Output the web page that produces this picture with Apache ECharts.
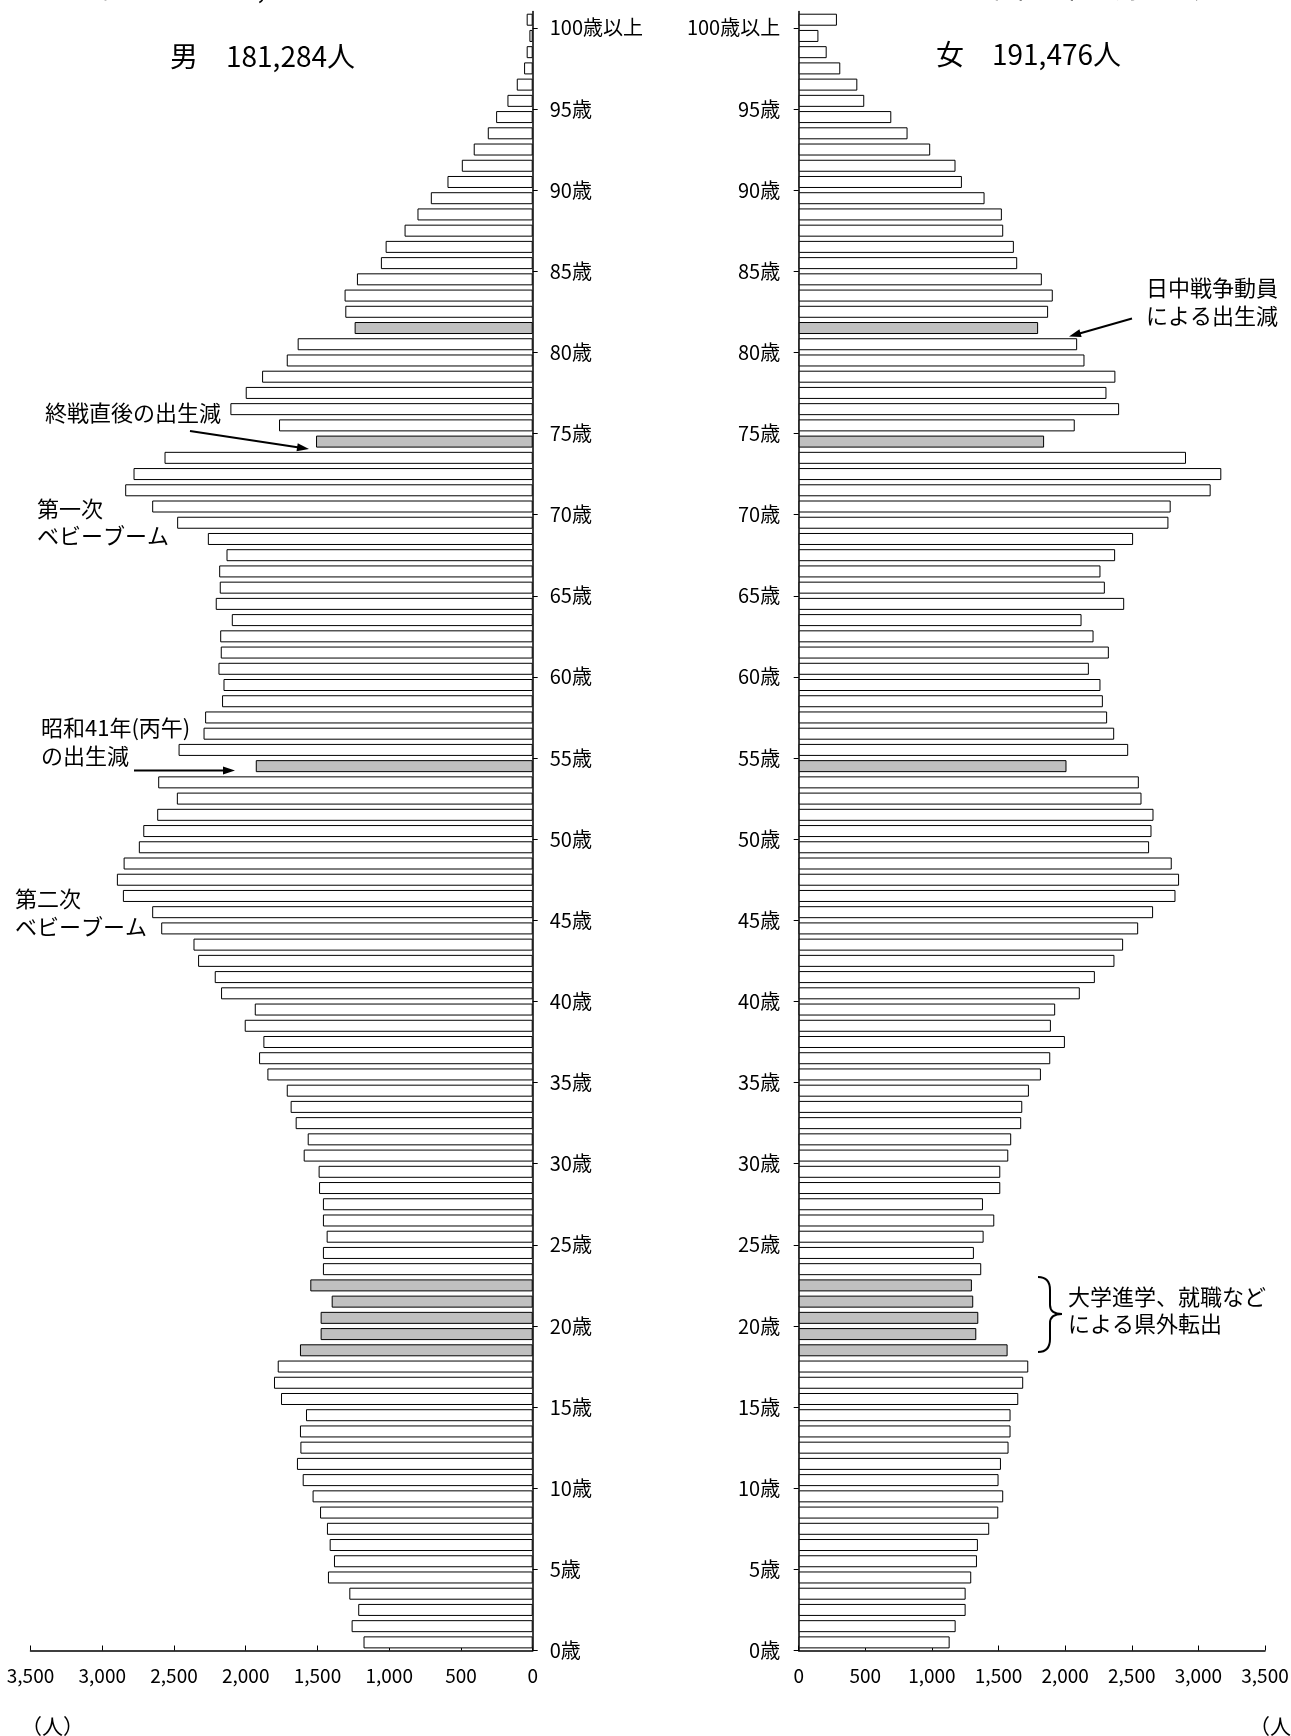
<!DOCTYPE html>
<html>
<head>
<meta charset="utf-8">
<script src="https://cdn.jsdelivr.net/npm/echarts@6/dist/echarts.min.js"></script>
<style>
  html, body { margin: 0; padding: 0; background: #fff; }
  #chart { width: 1291px; height: 1736px; }
</style>
</head>
<body>
<div id="chart"></div>
<script>
// ---- data (age 0 .. 100+) ----
const ageCategories = Array.from({ length: 101 }, (_, i) => (i === 100 ? '100歳以上' : i + '歳'));
const maleValues = [
  1179, 1262, 1216, 1278, 1427, 1385, 1415, 1434, 1482, 1534,
  1603, 1643, 1619, 1622, 1580, 1754, 1803, 1777, 1622, 1478,
  1478, 1401, 1550, 1462, 1462, 1436, 1462, 1462, 1489, 1492,
  1596, 1568, 1652, 1687, 1714, 1849, 1907, 1877, 2007, 1937,
  2172, 2216, 2332, 2364, 2589, 2652, 2856, 2898, 2851, 2745,
  2714, 2617, 2480, 2610, 1930, 2468, 2294, 2283, 2165, 2155,
  2190, 2174, 2178, 2097, 2209, 2181, 2185, 2134, 2264, 2478,
  2652, 2840, 2782, 2566, 1510, 1768, 2107, 2000, 1886, 1714,
  1638, 1241, 1306, 1311, 1225, 1058, 1025, 893, 803, 710,
  594, 494, 411, 313, 255, 176, 111, 60, 42, 23,
  42
];
const femaleValues = [
  1133, 1178, 1253, 1253, 1295, 1338, 1345, 1430, 1498, 1535,
  1500, 1518, 1575, 1590, 1590, 1648, 1685, 1723, 1568, 1333,
  1348, 1310, 1300, 1370, 1315, 1388, 1468, 1383, 1513, 1513,
  1573, 1595, 1670, 1678, 1728, 1818, 1888, 1998, 1893, 1925,
  2110, 2223, 2370, 2435, 2548, 2660, 2828, 2855, 2800, 2630,
  2648, 2663, 2573, 2553, 2010, 2473, 2368, 2315, 2283, 2265,
  2178, 2328, 2213, 2123, 2443, 2298, 2265, 2375, 2510, 2775,
  2792, 3092, 3172, 2907, 1842, 2072, 2405, 2310, 2377, 2145,
  2090, 1797, 1872, 1907, 1825, 1640, 1615, 1535, 1525, 1395,
  1225, 1177, 987, 817, 695, 492, 440, 312, 210, 148,
  287
];
const shadedAges = [18, 19, 20, 21, 22, 54, 74, 81];
const ageTickValues = [0, 5, 10, 15, 20, 25, 30, 35, 40, 45, 50, 55, 60, 65, 70, 75, 80, 85, 90, 95, 100];
const maleTitle = '男　181,284人';
const femaleTitle = '女　191,476人';

// ---- chart ----
const FONT = '"Noto Sans CJK JP", "Noto Sans", sans-serif';
const chart = echarts.init(document.getElementById('chart'), null, { renderer: 'canvas' });

function ageLabel(v) { return v === 100 ? '100歳以上' : v + '歳'; }
function fmt(v) { return Number(v).toLocaleString('en-US'); }

function barData(values) {
  return values.map((v, i) => shadedAges.indexOf(i) >= 0
    ? { value: v, itemStyle: { color: '#c0c0c0' } }
    : { value: v });
}

function xAxisCfg(grid, inverse) {
  return {
    type: 'value', gridIndex: grid, min: 0, max: 3500, interval: 500, inverse: inverse,
    position: 'bottom',
    axisLine: { show: true, onZero: false, lineStyle: { color: '#000', width: 1.5 } },
    axisTick: { show: true, inside: true, length: 5, lineStyle: { color: '#000', width: 1 } },
    axisLabel: { show: true, margin: 16, fontSize: 19, color: '#000', fontFamily: FONT, formatter: fmt },
    splitLine: { show: false }
  };
}
function catAxisCfg(grid, pos) {
  return {
    type: 'category', gridIndex: grid, data: ageCategories, position: pos,
    show: false, boundaryGap: true
  };
}
function ageAxisCfg(grid, pos, margin) {
  return {
    type: 'value', gridIndex: grid, min: 0, max: 101, interval: 5, position: pos,
    axisLine: { show: true, onZero: false, lineStyle: { color: '#000', width: 1.5 } },
    axisTick: { show: true, inside: false, length: 5, customValues: ageTickValues, lineStyle: { color: '#000', width: 1 } },
    axisLabel: {
      show: true, margin: margin, fontSize: 20, color: '#000', fontFamily: FONT,
      padding: [0, 0, 6, 0],
      customValues: ageTickValues, formatter: (v) => ageLabel(v)
    },
    splitLine: { show: false }
  };
}

function arrow(x1, y1, x2, y2) {
  const dx = x2 - x1, dy = y2 - y1, L = Math.hypot(dx, dy);
  const ux = dx / L, uy = dy / L, hl = 12, hw = 4;
  const bx = x2 - ux * hl, by = y2 - uy * hl;
  return [
    { type: 'line', shape: { x1: x1, y1: y1, x2: bx + ux * 2, y2: by + uy * 2 }, style: { stroke: '#000', lineWidth: 2 } },
    { type: 'polygon', shape: { points: [[x2, y2], [bx - uy * hw, by + ux * hw], [bx + uy * hw, by - ux * hw]] }, style: { fill: '#000' } }
  ];
}
function txt(text, x, y, size, align) {
  return {
    type: 'text',
    style: {
      text: text, x: x, y: y, fill: '#000', fontSize: size, fontFamily: FONT,
      align: align || 'left', textAlign: align || 'left',
      verticalAlign: 'middle', textVerticalAlign: 'middle'
    }
  };
}
function seg(x1, y1, x2, y2) {
  return { type: 'line', shape: { x1: x1, y1: y1, x2: x2, y2: y2 }, style: { stroke: '#000', lineWidth: 2 } };
}
function curve(x1, y1, cx, cy, x2, y2) {
  return { type: 'bezierCurve', shape: { x1: x1, y1: y1, cpx1: cx, cpy1: cy, x2: x2, y2: y2 }, style: { stroke: '#000', lineWidth: 2, fill: null } };
}

const brace = [
  curve(1038, 1277, 1050, 1277, 1050, 1290),
  seg(1050, 1290, 1050, 1305),
  curve(1050, 1305, 1050, 1314, 1062, 1314),
  curve(1062, 1314, 1050, 1314, 1050, 1323),
  seg(1050, 1323, 1050, 1339),
  curve(1050, 1339, 1050, 1352, 1038, 1352)
];

const graphics = [].concat(
  [txt('総人口　372,760人', 99, -13, 28)],
  [txt('令和2年10月1日現在', 1243, -13, 28, 'right')],
  [txt(maleTitle, 170, 56, 28)],
  [txt(femaleTitle, 936, 54, 28)],
  [txt('終戦直後の出生減', 45, 413, 22)],
  arrow(190, 431, 309, 449),
  [txt('第一次', 37, 509, 22), txt('ベビーブーム', 37, 536, 22)],
  [txt('昭和41年(丙午)', 41, 728, 22), txt('の出生減', 41, 756, 22)],
  arrow(134, 770.5, 235, 770.5),
  [txt('第二次', 15, 899, 22), txt('ベビーブーム', 15, 927, 22)],
  [txt('日中戦争動員', 1146, 288, 22), txt('による出生減', 1146, 316, 22)],
  arrow(1132, 318.5, 1069, 336.5),
  brace,
  [txt('大学進学、就職など', 1068, 1297, 22), txt('による県外転出', 1068, 1324, 22)],
  [txt('（人）', 21, 1726, 21), txt('（人）', 1249, 1726, 21)]
);

const option = {
  backgroundColor: '#fff',
  animation: false,
  textStyle: { fontFamily: FONT },
  grid: [
    { left: 30.5, right: 1291 - 532.7, top: 11.6, bottom: 85.5, containLabel: false, outerBoundsMode: 'none' },
    { left: 798.7, right: 26, top: 11.6, bottom: 85.5, containLabel: false, outerBoundsMode: 'none' }
  ],
  xAxis: [xAxisCfg(0, true), xAxisCfg(1, false)],
  yAxis: [
    catAxisCfg(0, 'right'),
    ageAxisCfg(0, 'right', 17),
    catAxisCfg(1, 'left'),
    ageAxisCfg(1, 'left', 18.5)
  ],
  series: [
    {
      name: '男', type: 'bar', xAxisIndex: 0, yAxisIndex: 0, barWidth: 12,
      itemStyle: { color: '#fff', borderColor: '#000', borderWidth: 1 },
      data: barData(maleValues)
    },
    {
      name: '女', type: 'bar', xAxisIndex: 1, yAxisIndex: 2, barWidth: 12,
      itemStyle: { color: '#fff', borderColor: '#000', borderWidth: 1 },
      data: barData(femaleValues)
    }
  ],
  graphic: { elements: graphics }
};
chart.setOption(option);
</script>
</body>
</html>
